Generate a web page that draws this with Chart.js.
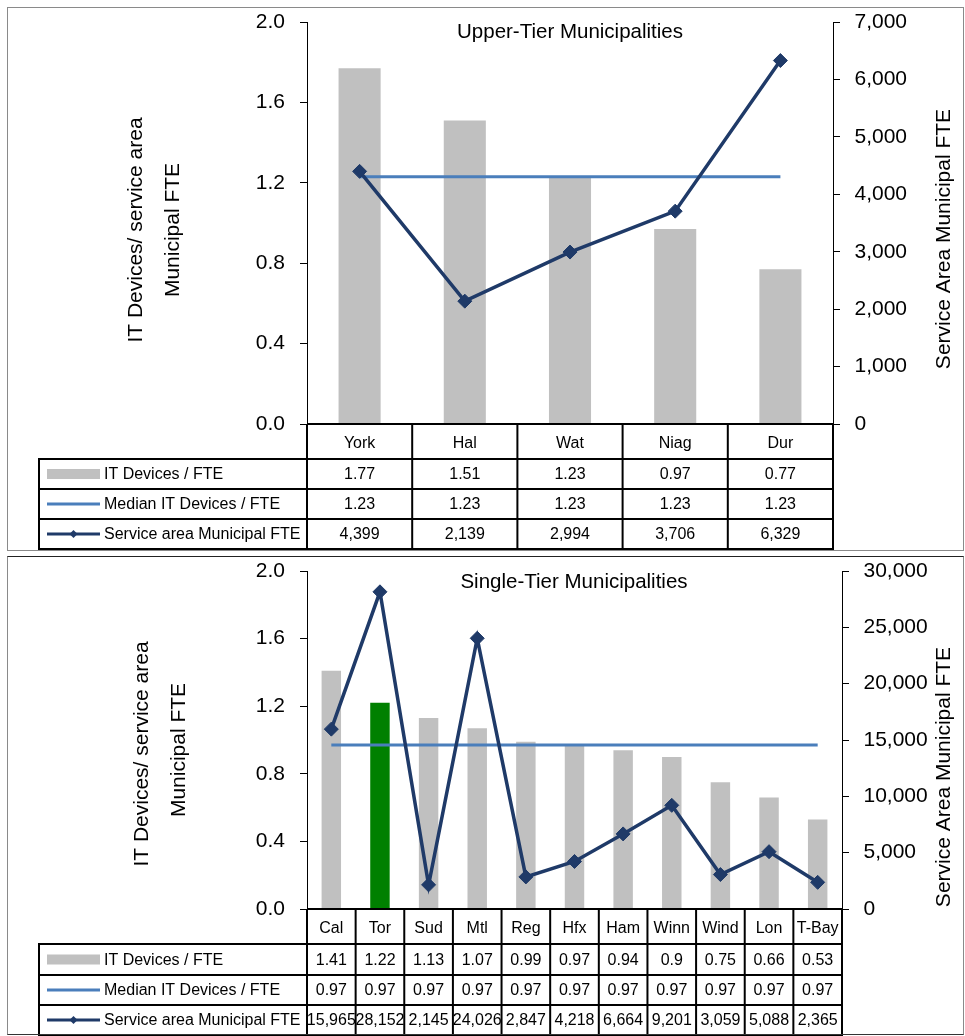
<!DOCTYPE html>
<html>
<head>
<meta charset="utf-8">
<script src="https://cdn.jsdelivr.net/npm/chart.js@4.4.1/dist/chart.umd.min.js"></script>
<style>
  html, body { margin: 0; padding: 0; background: #fff; width: 965px; height: 1036px; overflow: hidden; }
  canvas { position: absolute; left: 0; }
  .frame { position: absolute; box-sizing: border-box; pointer-events: none; }
</style>
</head>
<body>
<canvas id="c1" width="965" height="553" style="top:0px"></canvas>
<canvas id="c2" width="965" height="482" style="top:554px"></canvas>
<div class="frame" style="left:7px;top:7px;width:957px;height:544px;border:1.5px solid #8a8a8a;"></div>
<div class="frame" style="left:7px;top:556px;width:957px;height:479px;border:1.5px solid #8a8a8a;border-top-color:#222;border-bottom-color:#333;"></div>
<script>
// ---------------- DATA ----------------
const seriesLabels = ['IT Devices / FTE', 'Median IT Devices / FTE', 'Service area Municipal FTE'];

const upperTitle = 'Upper-Tier Municipalities';
const upperCategories = ['York', 'Hal', 'Wat', 'Niag', 'Dur'];
const upperItDevices = [1.77, 1.51, 1.23, 0.97, 0.77];
const upperMedian = [1.23, 1.23, 1.23, 1.23, 1.23];
const upperServiceFte = [4399, 2139, 2994, 3706, 6329];
const upperRightMax = 7000;
const upperRightStep = 1000;

const singleTitle = 'Single-Tier Municipalities';
const singleCategories = ['Cal', 'Tor', 'Sud', 'Mtl', 'Reg', 'Hfx', 'Ham', 'Winn', 'Wind', 'Lon', 'T-Bay'];
const singleItDevices = [1.41, 1.22, 1.13, 1.07, 0.99, 0.97, 0.94, 0.9, 0.75, 0.66, 0.53];
const singleMedian = [0.97, 0.97, 0.97, 0.97, 0.97, 0.97, 0.97, 0.97, 0.97, 0.97, 0.97];
const singleServiceFte = [15965, 28152, 2145, 24026, 2847, 4218, 6664, 9201, 3059, 5088, 2365];
const singleRightMax = 30000;
const singleRightStep = 5000;
const highlightCategory = 'Tor';

const leftAxisMax = 2.0;
const leftAxisStep = 0.4;
const leftAxisTitle = ['IT Devices/ service area', 'Municipal FTE'];
const rightAxisTitle = 'Service Area Municipal FTE';

// ---------------- STYLE ----------------
const FONT = '"Liberation Sans", Arial, Helvetica, sans-serif';
const BAR_GRAY = '#c0c0c0';
const BAR_GREEN = '#008000';
const MEDIAN_COLOR = '#4a7ebb';
const SERVICE_COLOR = '#1f3a68';

const panelDecor = {
  id: 'panelDecor',
  afterDraw(chart, args, o) {
    const ctx = chart.ctx;
    const area = chart.chartArea;
    const xs = chart.scales.x;
    const n = chart.data.labels.length;
    const cw = (area.right - area.left) / n;
    ctx.save();
    ctx.fillStyle = '#000';
    // chart title
    ctx.font = '20.5px ' + FONT;
    ctx.textAlign = 'center';
    ctx.textBaseline = 'middle';
    ctx.fillText(o.title, o.titleX, o.titleY);
    // axis titles
    ctx.font = '21px ' + FONT;
    ctx.textBaseline = 'alphabetic';
    o.leftTitle.forEach((line, i) => {
      ctx.save();
      ctx.translate(o.leftTitleX[i], o.leftTitleY[i]);
      ctx.rotate(-Math.PI / 2);
      ctx.fillText(line, 0, 0);
      ctx.restore();
    });
    ctx.save();
    ctx.translate(o.rightTitleX, o.rightTitleY);
    ctx.rotate(-Math.PI / 2);
    ctx.fillText(o.rightTitle, 0, 0);
    ctx.restore();

    // data table
    const rows = o.rows;
    const top = area.bottom;
    const last = rows[rows.length - 1];
    ctx.strokeStyle = '#000';
    ctx.lineWidth = 2;
    ctx.beginPath();
    ctx.moveTo(area.left, top); ctx.lineTo(area.right + 1, top);
    rows.forEach(y => { ctx.moveTo(o.tableLeft - 1, y); ctx.lineTo(area.right + 1, y); });
    ctx.moveTo(o.tableLeft, rows[0]); ctx.lineTo(o.tableLeft, last);
    for (let i = 0; i <= n; i++) {
      const x = (i < n ? xs.getPixelForValue(i) - cw / 2 : xs.getPixelForValue(n - 1) + cw / 2);
      ctx.moveTo(x, top); ctx.lineTo(x, last);
    }
    ctx.stroke();

    const ds = chart.data.datasets;
    const fmt = [v => String(v), v => String(v), v => v.toLocaleString('en-US')];
    ctx.font = '16px ' + FONT;
    ctx.textBaseline = 'middle';
    for (let r = 0; r < 3; r++) {
      const cy = (rows[r] + rows[r + 1]) / 2 + 1;
      ctx.textAlign = 'center';
      ctx.fillStyle = '#000';
      ds[r].data.forEach((v, i) => {
        ctx.fillText(fmt[r](v), xs.getPixelForValue(i), cy);
      });
      // legend key
      ctx.textAlign = 'left';
      ctx.fillText(ds[r].label, o.tableLeft + 65, cy);
      const kx0 = o.tableLeft + 8, kx1 = o.tableLeft + 61;
      if (r === 0) {
        ctx.fillStyle = BAR_GRAY;
        ctx.fillRect(kx0, cy - 6, kx1 - kx0, 10);
      } else {
        ctx.strokeStyle = ds[r].borderColor;
        ctx.lineWidth = 3;
        ctx.beginPath();
        ctx.moveTo(kx0, cy - 1); ctx.lineTo(kx1, cy - 1);
        ctx.stroke();
        if (r === 2) {
          const mx = (kx0 + kx1) / 2, my = cy - 1, s = 4;
          ctx.fillStyle = ds[r].borderColor;
          ctx.beginPath();
          ctx.moveTo(mx, my - s); ctx.lineTo(mx + s, my); ctx.lineTo(mx, my + s); ctx.lineTo(mx - s, my);
          ctx.closePath(); ctx.fill();
        }
      }
    }
    ctx.restore();
  }
};

function makeChart(canvasId, cats, bars, median, service, rightMax, rightStep, geo) {
  const H = document.getElementById(canvasId).height;
  const barColors = cats.map(c => c === highlightCategory ? BAR_GREEN : BAR_GRAY);
  return new Chart(document.getElementById(canvasId), {
    data: {
      labels: cats,
      datasets: [
        { type: 'bar', label: seriesLabels[0], data: bars, yAxisID: 'y', backgroundColor: barColors,
          borderWidth: 0, barPercentage: 0.4, categoryPercentage: 1.0, order: 3 },
        { type: 'line', label: seriesLabels[1], data: median, yAxisID: 'y', borderColor: MEDIAN_COLOR,
          backgroundColor: MEDIAN_COLOR, borderWidth: 3, pointRadius: 0, tension: 0, order: 2 },
        { type: 'line', label: seriesLabels[2], data: service, yAxisID: 'y1', borderColor: SERVICE_COLOR,
          backgroundColor: SERVICE_COLOR, borderWidth: 3.5, pointStyle: 'rectRot', pointRadius: 7,
          pointBorderWidth: 1, tension: 0, order: 1, clip: false }
      ]
    },
    options: {
      responsive: false,
      animation: false,
      devicePixelRatio: 1,
      layout: { autoPadding: false, padding: { left: 0, top: geo.top, right: 965 - geo.right - 120, bottom: H - geo.rows[0] } },
      plugins: {
        legend: { display: false },
        tooltip: { enabled: false },
        panelDecor: geo.decor
      },
      scales: {
        x: {
          type: 'category', offset: true,
          grid: { display: false }, border: { display: false },
          ticks: { color: '#000', font: { family: FONT, size: 16 }, padding: 2, maxRotation: 0, autoSkip: false },
          afterFit: s => { s.height = geo.rows[0] - geo.bottom; s.paddingLeft = 0; s.paddingRight = 0; }
        },
        y: {
          position: 'left', min: 0, max: leftAxisMax,
          grid: { display: true, drawOnChartArea: false, drawTicks: true, tickLength: 7, color: '#000', lineWidth: 1 },
          border: { display: true, color: '#000', width: 1 },
          ticks: { stepSize: leftAxisStep, color: '#000', font: { family: FONT, size: 21 }, padding: 15,
                   callback: v => Number(v).toFixed(1) },
          afterFit: s => { s.width = geo.left; s.paddingTop = 0; s.paddingBottom = 0; }
        },
        y1: {
          position: 'right', min: 0, max: rightMax,
          grid: { display: true, drawOnChartArea: false, drawTicks: true, tickLength: 7, color: '#000', lineWidth: 1 },
          border: { display: true, color: '#000', width: 1 },
          ticks: { stepSize: rightStep, color: '#000', font: { family: FONT, size: 21 }, padding: 14.5,
                   callback: v => Number(v).toLocaleString('en-US') },
          afterFit: s => { s.width = 120; s.paddingTop = 0; s.paddingBottom = 0; }
        }
      }
    },
    plugins: [panelDecor]
  });
}

makeChart('c1', upperCategories, upperItDevices, upperMedian, upperServiceFte, upperRightMax, upperRightStep, {
  left: 307, right: 833, top: 22, bottom: 424,
  rows: [459, 489, 519, 549],
  decor: {
    title: upperTitle, titleX: 570, titleY: 32,
    leftTitle: leftAxisTitle, leftTitleX: [142, 179], leftTitleY: [230, 230],
    rightTitle: rightAxisTitle, rightTitleX: 950, rightTitleY: 239,
    tableLeft: 39, rows: [459, 489, 519, 549]
  }
});

makeChart('c2', singleCategories, singleItDevices, singleMedian, singleServiceFte, singleRightMax, singleRightStep, {
  left: 307, right: 842, top: 17, bottom: 355,
  rows: [390, 421, 451, 481],
  decor: {
    title: singleTitle, titleX: 574, titleY: 28,
    leftTitle: leftAxisTitle, leftTitleX: [148, 185], leftTitleY: [200, 196],
    rightTitle: rightAxisTitle, rightTitleX: 950, rightTitleY: 223,
    tableLeft: 39, rows: [390, 421, 451, 481]
  }
});
</script>
</body>
</html>
